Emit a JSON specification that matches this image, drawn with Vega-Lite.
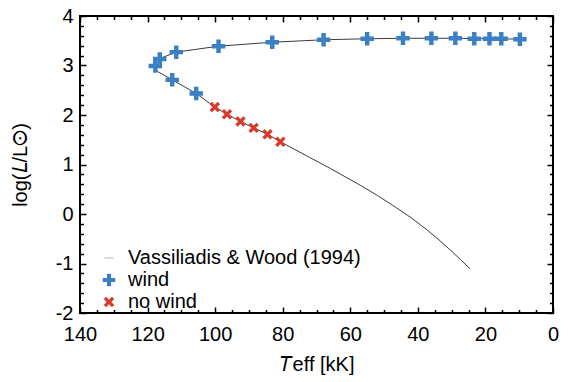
{
  "$schema": "https://vega.github.io/schema/vega-lite/v6.json",
  "width": 473,
  "height": 297,
  "autosize": {"type": "none"},
  "padding": {"left": 80, "top": 16, "right": 17, "bottom": 69},
  "background": "white",
  "datasets": {
    "track": [
      {"k": 1, "t": 9.7, "l": 3.53},
      {"k": 2, "t": 15.3, "l": 3.54},
      {"k": 3, "t": 18.8, "l": 3.54},
      {"k": 4, "t": 23.3, "l": 3.545},
      {"k": 5, "t": 28.9, "l": 3.55},
      {"k": 6, "t": 36.0, "l": 3.55},
      {"k": 7, "t": 44.4, "l": 3.55},
      {"k": 8, "t": 55.0, "l": 3.54},
      {"k": 9, "t": 67.9, "l": 3.52},
      {"k": 10, "t": 83.1, "l": 3.47},
      {"k": 11, "t": 99.0, "l": 3.39},
      {"k": 12, "t": 111.5, "l": 3.27},
      {"k": 13, "t": 116.4, "l": 3.14},
      {"k": 14, "t": 118.4, "l": 3.03},
      {"k": 15, "t": 118.3, "l": 2.96},
      {"k": 16, "t": 116.8, "l": 2.87},
      {"k": 17, "t": 112.7, "l": 2.71},
      {"k": 18, "t": 105.6, "l": 2.435},
      {"k": 19, "t": 100.1, "l": 2.16},
      {"k": 20, "t": 96.5, "l": 2.015},
      {"k": 21, "t": 92.5, "l": 1.87},
      {"k": 22, "t": 88.6, "l": 1.74},
      {"k": 23, "t": 84.5, "l": 1.61},
      {"k": 24, "t": 80.7, "l": 1.46},
      {"k": 25, "t": 72.0, "l": 1.142},
      {"k": 26, "t": 65.9, "l": 0.92},
      {"k": 27, "t": 57.0, "l": 0.58},
      {"k": 28, "t": 52.0, "l": 0.375},
      {"k": 29, "t": 47.2, "l": 0.165},
      {"k": 30, "t": 42.0, "l": -0.075},
      {"k": 31, "t": 37.3, "l": -0.32},
      {"k": 32, "t": 34.0, "l": -0.508},
      {"k": 33, "t": 30.4, "l": -0.727},
      {"k": 34, "t": 27.4, "l": -0.919},
      {"k": 35, "t": 24.6, "l": -1.104}
    ],
    "pts": [
      {"series": "wind", "t": 117.7, "l": 2.99},
      {"series": "wind", "t": 116.4, "l": 3.13},
      {"series": "wind", "t": 111.5, "l": 3.27},
      {"series": "wind", "t": 99.0, "l": 3.39},
      {"series": "wind", "t": 83.1, "l": 3.47},
      {"series": "wind", "t": 67.9, "l": 3.52},
      {"series": "wind", "t": 55.0, "l": 3.54},
      {"series": "wind", "t": 44.4, "l": 3.55},
      {"series": "wind", "t": 36.0, "l": 3.55},
      {"series": "wind", "t": 28.9, "l": 3.55},
      {"series": "wind", "t": 23.3, "l": 3.54},
      {"series": "wind", "t": 18.8, "l": 3.54},
      {"series": "wind", "t": 15.3, "l": 3.54},
      {"series": "wind", "t": 9.8, "l": 3.53},
      {"series": "wind", "t": 112.7, "l": 2.71},
      {"series": "wind", "t": 105.6, "l": 2.435},
      {"series": "no wind", "t": 100.1, "l": 2.16},
      {"series": "no wind", "t": 96.5, "l": 2.015},
      {"series": "no wind", "t": 92.5, "l": 1.87},
      {"series": "no wind", "t": 88.6, "l": 1.74},
      {"series": "no wind", "t": 84.5, "l": 1.61},
      {"series": "no wind", "t": 80.7, "l": 1.46}
    ]
  },
  "layer": [
    {
      "data": {"name": "track"},
      "mark": {"type": "line", "color": "#3a3a3a", "strokeWidth": 1},
      "encoding": {
        "x": {
          "field": "t", "type": "quantitative",
          "scale": {"domain": [0, 140], "reverse": true, "nice": false, "zero": false},
          "axis": {
            "orient": "bottom",
            "values": [0,5,10,15,20,25,30,35,40,45,50,55,60,65,70,75,80,85,90,95,100,105,110,115,120,125,130,135,140],
            "labelExpr": "datum.value % 20 === 0 ? '' + round(datum.value) : ''",
            "tickSize": {"condition": {"test": "datum.value % 20 === 0", "value": -6}, "value": -3.5},
            "labelPadding": 17,
            "labelFlush": false,
            "labelOverlap": false,
            "title": "𝑇eff [kK]",
            "titlePadding": 8
          }
        },
        "y": {
          "field": "l", "type": "quantitative",
          "scale": {"domain": [-2, 4], "nice": false, "zero": false},
          "axis": {
            "orient": "left",
            "values": [-2,-1.8,-1.6,-1.4,-1.2,-1,-0.8,-0.6,-0.4,-0.2,0,0.2,0.4,0.6,0.8,1,1.2,1.4,1.6,1.8,2,2.2,2.4,2.6,2.8,3,3.2,3.4,3.6,3.8,4],
            "labelExpr": "abs(datum.value - round(datum.value)) < 0.001 ? '' + round(datum.value) : ''",
            "tickSize": {"condition": {"test": "abs(datum.value - round(datum.value)) < 0.001", "value": -6}, "value": -3.5},
            "labelPadding": 13,
            "labelFlush": false,
            "labelOverlap": false,
            "title": "log(𝐿/L☉)",
            "titlePadding": 25
          }
        },
        "order": {"field": "k", "type": "quantitative"}
      }
    },
    {
      "data": {"name": "pts"},
      "mark": {"type": "point", "filled": true, "opacity": 1},
      "encoding": {
        "x": {
          "field": "t", "type": "quantitative",
          "axis": {
            "orient": "top",
            "values": [0,5,10,15,20,25,30,35,40,45,50,55,60,65,70,75,80,85,90,95,100,105,110,115,120,125,130,135,140],
            "labels": false,
            "tickSize": {"condition": {"test": "datum.value % 20 === 0", "value": -6}, "value": -3.5},
            "title": null
          }
        },
        "y": {
          "field": "l", "type": "quantitative",
          "axis": {
            "orient": "right",
            "values": [-2,-1.8,-1.6,-1.4,-1.2,-1,-0.8,-0.6,-0.4,-0.2,0,0.2,0.4,0.6,0.8,1,1.2,1.4,1.6,1.8,2,2.2,2.4,2.6,2.8,3,3.2,3.4,3.6,3.8,4],
            "labels": false,
            "tickSize": {"condition": {"test": "abs(datum.value - round(datum.value)) < 0.001", "value": -6}, "value": -3.5},
            "title": null
          }
        },
        "size": {
          "field": "series", "type": "nominal",
          "scale": {"domain": ["wind", "no wind"], "range": [182, 152]},
          "legend": null
        },
        "color": {
          "field": "series", "type": "nominal",
          "scale": {"domain": ["Vassiliadis & Wood (1994)", "wind", "no wind"], "range": ["#8a8a8a", "#3b80c4", "#d83a2b"]},
          "legend": {
            "title": null,
            "orient": "none",
            "legendX": 19,
            "legendY": 232,
            "padding": 0,
            "rowPadding": 2,
            "labelFont": "Liberation Sans",
            "labelFontSize": 20,
            "labelColor": "black",
            "labelLimit": 0,
            "labelOffset": 9,
            "symbolSize": 155
          }
        },
        "shape": {
          "field": "series", "type": "nominal",
          "scale": {"domain": ["Vassiliadis & Wood (1994)", "wind", "no wind"], "range": ["M-0.72,-0.05H0.72V0.05H-0.72Z", "M-1,-0.33H-0.33V-1H0.33V-0.33H1V0.33H0.33V1H-0.33V0.33H-1Z", "M-0.85,-0.47L-0.47,-0.85L0,-0.38L0.47,-0.85L0.85,-0.47L0.38,0L0.85,0.47L0.47,0.85L0,0.38L-0.47,0.85L-0.85,0.47L-0.38,0Z"]}
        }
      }
    }
  ],
  "resolve": {"axis": {"x": "independent", "y": "independent"}},
  "config": {
    "view": {"stroke": "black", "strokeWidth": 2},
    "font": "Liberation Sans",
    "axis": {
      "grid": false,
      "domain": false,
      "labelFont": "Liberation Sans",
      "labelFontSize": 20,
      "labelColor": "black",
      "titleFont": "Liberation Sans",
      "titleFontSize": 20,
      "titleFontWeight": "normal",
      "titleColor": "black",
      "tickColor": "black",
      "tickWidth": 1.5
    }
  }
}
